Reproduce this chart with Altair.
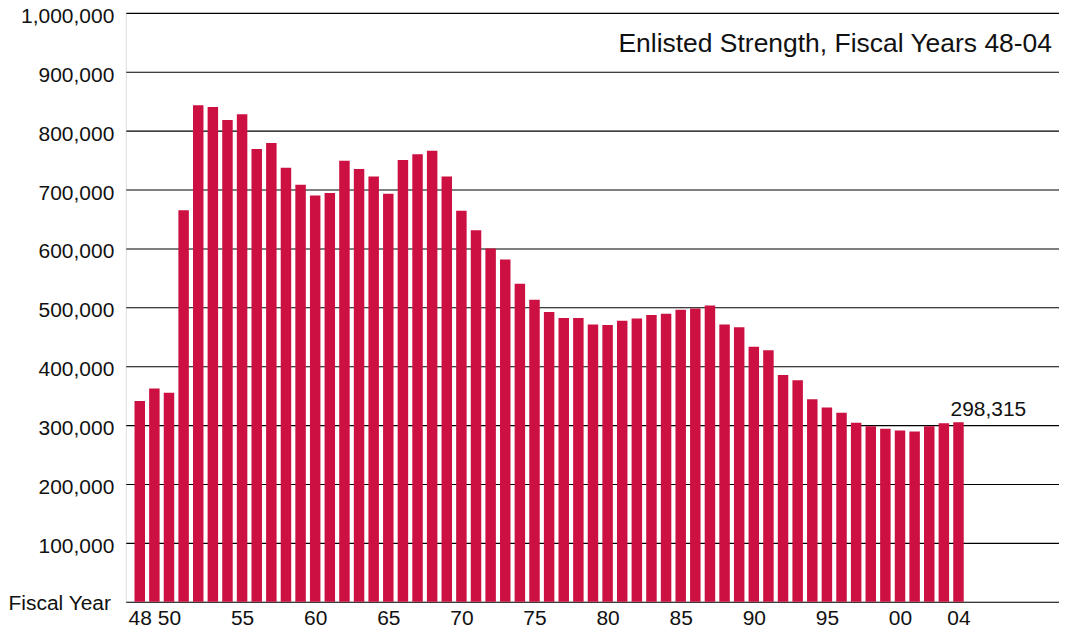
import altair as alt
import pandas as pd

years = [1948, 1949, 1950, 1951, 1952, 1953, 1954, 1955, 1956, 1957,
         1958, 1959, 1960, 1961, 1962, 1963, 1964, 1965, 1966, 1967,
         1968, 1969, 1970, 1971, 1972, 1973, 1974, 1975, 1976, 1977,
         1978, 1979, 1980, 1981, 1982, 1983, 1984, 1985, 1986, 1987,
         1988, 1989, 1990, 1991, 1992, 1993, 1994, 1995, 1996, 1997,
         1998, 1999, 2000, 2001, 2002, 2003, 2004]
strength = [341000, 362000, 355000, 665000, 843000, 840000, 818000, 828000, 769000, 779000,
            737000, 708000, 690000, 694000, 749000, 735000, 722000, 693000, 750000, 760000,
            766000, 722000, 664000, 631000, 600000, 581000, 540000, 513000, 492000, 482000,
            482000, 471000, 470000, 477000, 481000, 487000, 489000, 496000, 498000, 503000,
            471000, 466000, 433000, 427000, 385000, 376000, 344000, 330000, 321000, 304000,
            298000, 294000, 291000, 289000, 298000, 303000, 305000]
tick_years = [1948, 1950, 1955, 1960, 1965, 1970, 1975, 1980, 1985, 1990, 1995, 2000, 2004]
y_ticks = [100000, 200000, 300000, 400000, 500000, 600000, 700000, 800000, 900000, 1000000]
title_text = "Enlisted Strength, Fiscal Years 48-04"
last_label = "298,315"
x_axis_label = "Fiscal Year"

FONT = "Liberation Sans, Helvetica, Arial, sans-serif"
W, H = 935, 590

df = pd.DataFrame({"year": years, "strength": strength})
ann = pd.DataFrame({"year": [years[-1]], "strength": [strength[-1]], "label": [last_label]})

x_scale = alt.Scale(domain=[1947.044, 2010.875], nice=False, zero=False, padding=0)
y_scale = alt.Scale(domain=[0, 1000000], nice=False)

bars = alt.Chart(df).mark_bar(color="#CC1041", size=10.5).encode(
    x=alt.X("year:Q", scale=x_scale,
            axis=alt.Axis(values=tick_years, title=None, grid=False, ticks=False,
                          labelExpr="substring(toString(datum.value), 2, 4)",
                          labelFontSize=21, labelFont=FONT, labelColor="#111",
                          labelPadding=6, domainColor="#000", domainWidth=1.2,
                          labelFlush=False, labelOverlap=False)),
    y=alt.Y("strength:Q", scale=y_scale,
            axis=alt.Axis(values=y_ticks, format=",d", title=None, grid=True,
                          gridColor="#000", gridWidth=1.1, gridOpacity=1,
                          ticks=False, domain=False, labelFontSize=21, labelFont=FONT,
                          labelColor="#111", labelPadding=12, labelOffset=3.5,
                          labelOverlap=False, labelFlush=False)),
    y2=alt.value(H - 6.6),
)

annot = alt.Chart(ann).mark_text(align="left", baseline="alphabetic", dx=-8, dy=-6.3,
                                 fontSize=21, font=FONT, color="#111").encode(
    x=alt.X("year:Q", scale=x_scale),
    y=alt.Y("strength:Q", scale=y_scale),
    text="label:N",
)

title = alt.Chart(pd.DataFrame({"t": [title_text]})).mark_text(
    align="right", baseline="alphabetic", fontSize=26.5, font=FONT, color="#111"
).encode(x=alt.value(928), y=alt.value(39.4), text="t:N")

xlab = alt.Chart(pd.DataFrame({"t": [x_axis_label]})).mark_text(
    align="left", baseline="middle", fontSize=21, font=FONT, color="#111"
).encode(x=alt.value(-117.5), y=alt.value(H + 2), text="t:N")

chart = alt.layer(bars, annot, title, xlab).properties(
    width=W, height=H,
    autosize=alt.AutoSizeParams(type="none"),
    padding={"left": 118, "top": 4.3, "right": 0, "bottom": 30},
).configure_view(stroke=None).configure(background="white")

chart.save("out.html", embed_options={"renderer": "svg", "actions": False})
